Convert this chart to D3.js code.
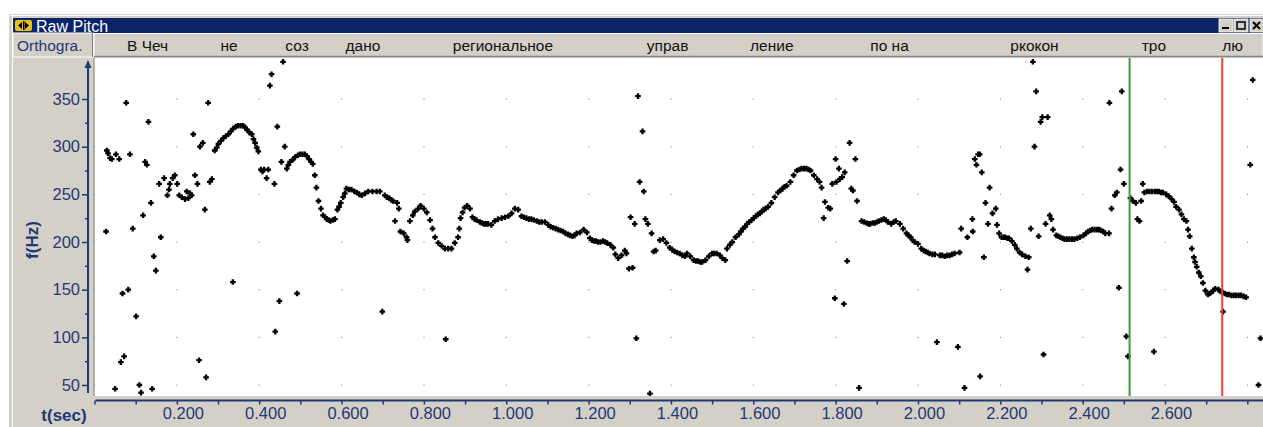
<!DOCTYPE html>
<meta charset="utf-8">
<style>
body { margin: 0; background: #fff; }
text { font-family: "Liberation Sans", Arial, sans-serif; }
.ax text { fill: #1f3876; font-size: 16.5px; }
.ax line, .ax path { stroke: #1f3876; }
</style>
<body>
<script src="https://cdn.jsdelivr.net/npm/d3@7"></script>
<script>
// raw pitch track: [time (s), f0 (Hz)]
var pitch = [
  [0.028,211],[0.030,296],[0.033,293],[0.038,288],[0.042,287],[0.050,46],[0.052,292],[0.060,287],
  [0.064,74],[0.068,146],[0.072,80],[0.077,346],[0.082,150],[0.086,292],[0.093,214],[0.101,122],
  [0.109,50],[0.113,42],[0.118,228],[0.123,284],[0.127,281],[0.131,326],[0.137,241],[0.140,46],
  [0.144,185],[0.149,170],[0.157,261],[0.161,205],[0.169,267],[0.177,249],[0.181,255],[0.183,261],
  [0.190,267],[0.195,270],[0.201,261],[0.206,249],[0.212,247],[0.220,245],[0.224,253],[0.228,246],
  [0.232,251],[0.236,249],[0.240,313],[0.244,270],[0.250,261],[0.254,76],[0.256,300],[0.263,304],
  [0.268,234],[0.271,58],[0.276,346],[0.280,263],[0.285,266],[0.292,296],[0.297,299],[0.301,303],
  [0.307,306],[0.313,309],[0.319,311],[0.325,313],[0.331,316],[0.336,158],[0.337,319],[0.343,321],
  [0.349,322],[0.355,322],[0.361,322],[0.366,320],[0.370,318],[0.376,315],[0.382,313],[0.386,308],
  [0.390,304],[0.394,299],[0.398,295],[0.404,276],[0.408,274],[0.412,276],[0.418,267],[0.422,276],
  [0.426,364],[0.430,376],[0.437,261],[0.439,106],[0.444,321],[0.449,138],[0.454,284],[0.458,389],
  [0.462,300],[0.467,277],[0.471,281],[0.475,284],[0.481,286],[0.487,289],[0.492,146],[0.494,291],
  [0.499,292],[0.505,292],[0.511,292],[0.516,290],[0.521,287],[0.526,284],[0.530,282],[0.535,270],
  [0.539,257],[0.544,243],[0.550,235],[0.555,228],[0.560,226],[0.564,224],[0.569,223],[0.573,222],
  [0.579,223],[0.584,224],[0.590,234],[0.594,237],[0.598,241],[0.604,247],[0.608,251],[0.612,256],
  [0.618,255],[0.624,255],[0.631,253],[0.637,252],[0.643,250],[0.649,249],[0.657,251],[0.665,253],
  [0.675,253],[0.685,253],[0.693,253],[0.699,127],[0.705,249],[0.710,247],[0.716,246],[0.721,244],
  [0.725,243],[0.730,222],[0.735,241],[0.739,235],[0.743,211],[0.751,209],[0.758,205],[0.760,202],
  [0.766,222],[0.773,228],[0.778,232],[0.786,235],[0.792,238],[0.800,235],[0.807,231],[0.815,223],
  [0.821,214],[0.827,205],[0.835,199],[0.843,196],[0.851,193],[0.853,98],[0.859,193],[0.867,193],
  [0.875,199],[0.883,205],[0.886,214],[0.889,225],[0.894,231],[0.899,236],[0.905,238],[0.912,235],
  [0.918,226],[0.923,224],[0.928,223],[0.936,221],[0.941,220],[0.946,219],[0.951,219],[0.956,219],
  [0.964,218],[0.972,222],[0.980,224],[0.989,225],[0.997,226],[1.005,227],[1.013,230],[1.021,235],
  [1.029,234],[1.037,227],[1.043,226],[1.049,225],[1.055,224],[1.061,224],[1.067,223],[1.074,222],
  [1.080,221],[1.086,221],[1.094,221],[1.102,218],[1.108,216],[1.114,215],[1.120,214],[1.126,213],
  [1.132,212],[1.138,211],[1.144,209],[1.150,208],[1.155,207],[1.161,206],[1.166,207],[1.171,209],
  [1.179,210],[1.188,213],[1.196,210],[1.203,204],[1.208,202],[1.213,201],[1.218,201],[1.223,200],
  [1.229,200],[1.235,201],[1.240,200],[1.245,199],[1.253,197],[1.260,194],[1.265,187],[1.272,183],
  [1.280,186],[1.288,191],[1.292,188],[1.298,172],[1.302,226],[1.307,173],[1.312,219],[1.316,99],
  [1.320,353],[1.324,263],[1.331,316],[1.334,253],[1.338,224],[1.344,219],[1.349,41],[1.353,209],
  [1.358,190],[1.363,191],[1.373,202],[1.381,203],[1.389,199],[1.397,194],[1.403,192],[1.409,190],
  [1.415,189],[1.421,188],[1.428,186],[1.434,185],[1.439,188],[1.447,185],[1.455,181],[1.461,180],
  [1.466,180],[1.471,179],[1.476,179],[1.484,181],[1.492,185],[1.500,188],[1.505,188],[1.511,188],
  [1.519,186],[1.525,183],[1.532,181],[1.536,193],[1.543,197],[1.549,200],[1.557,205],[1.565,208],
  [1.570,211],[1.575,214],[1.580,216],[1.585,219],[1.590,221],[1.596,223],[1.601,225],[1.606,227],
  [1.611,229],[1.616,230],[1.621,232],[1.625,234],[1.630,235],[1.636,237],[1.644,241],[1.652,247],
  [1.660,252],[1.666,254],[1.671,256],[1.676,258],[1.681,259],[1.690,263],[1.698,270],[1.706,275],
  [1.712,276],[1.717,277],[1.723,277],[1.729,277],[1.734,276],[1.739,275],[1.747,270],[1.755,266],
  [1.761,263],[1.766,257],[1.771,225],[1.774,242],[1.782,236],[1.787,235],[1.792,261],[1.798,141],
  [1.800,287],[1.802,263],[1.808,277],[1.810,266],[1.816,268],[1.820,135],[1.822,273],[1.828,180],
  [1.834,304],[1.838,256],[1.842,254],[1.848,287],[1.852,243],[1.857,47],[1.863,222],[1.869,221],
  [1.875,220],[1.880,219],[1.884,219],[1.890,220],[1.895,220],[1.900,221],[1.905,222],[1.911,223],
  [1.917,224],[1.922,223],[1.927,221],[1.935,219],[1.941,221],[1.946,222],[1.956,219],[1.964,214],
  [1.972,209],[1.977,207],[1.982,205],[1.987,202],[1.992,200],[2.000,198],[2.008,193],[2.014,191],
  [2.019,190],[2.024,189],[2.028,188],[2.035,187],[2.041,187],[2.046,95],[2.053,186],[2.059,186],
  [2.065,185],[2.071,186],[2.077,186],[2.083,187],[2.089,188],[2.097,90],[2.101,189],[2.105,214],
  [2.113,47],[2.120,205],[2.132,224],[2.133,211],[2.138,287],[2.142,281],[2.146,292],[2.150,292],
  [2.151,59],[2.155,273],[2.160,184],[2.164,241],[2.170,219],[2.174,257],[2.181,230],[2.189,235],
  [2.192,218],[2.197,209],[2.203,205],[2.208,205],[2.212,205],[2.217,204],[2.221,204],[2.228,201],
  [2.235,197],[2.240,193],[2.247,189],[2.253,187],[2.261,185],[2.266,171],[2.269,184],[2.274,214],
  [2.279,389],[2.283,300],[2.287,358],[2.293,206],[2.298,326],[2.302,331],[2.305,82],[2.310,219],
  [2.315,331],[2.320,228],[2.324,224],[2.328,213],[2.336,207],[2.341,206],[2.346,205],[2.351,204],
  [2.356,203],[2.362,203],[2.368,203],[2.374,203],[2.380,203],[2.387,204],[2.393,205],[2.402,207],
  [2.408,209],[2.413,211],[2.418,212],[2.423,213],[2.429,213],[2.435,213],[2.440,213],[2.445,212],
  [2.450,211],[2.455,209],[2.464,209],[2.465,346],[2.470,235],[2.478,249],[2.483,252],[2.488,152],
  [2.492,276],[2.495,358],[2.500,261],[2.506,101],[2.510,80],[2.516,246],[2.522,243],[2.529,241],
  [2.533,224],[2.538,222],[2.542,243],[2.546,261],[2.550,252],[2.556,253],[2.562,253],[2.568,253],
  [2.573,85],[2.575,253],[2.580,253],[2.585,253],[2.590,252],[2.595,252],[2.603,250],[2.609,248],
  [2.616,245],[2.622,242],[2.627,237],[2.634,234],[2.640,229],[2.646,224],[2.652,222],[2.656,213],
  [2.660,206],[2.665,193],[2.670,184],[2.673,179],[2.677,174],[2.682,168],[2.687,164],[2.692,157],
  [2.698,149],[2.704,145],[2.708,146],[2.712,147],[2.717,149],[2.722,151],[2.730,150],[2.735,148],
  [2.740,147],[2.741,127],[2.745,146],[2.750,145],[2.755,145],[2.761,144],[2.767,144],[2.773,144],
  [2.779,144],[2.785,144],[2.791,143],[2.797,142],[2.807,281],[2.813,370],[2.827,50],[2.832,99]
];

// orthographic tier
var words = ["В Чеч", "не", "соз", "дано", "региональное", "управ", "ление", "по на", "ркокон", "тро", "лю"];
var wordTimes = [0.129, 0.327, 0.492, 0.652, 0.992, 1.392, 1.645, 1.931, 2.283, 2.573, 2.764];

var yMajor = [50, 100, 150, 200, 250, 300, 350];
var yMinor = [75, 125, 175, 225, 275, 325];
var xLabelTicks = [0.2, 0.4, 0.6, 0.8, 1.0, 1.2, 1.4, 1.6, 1.8, 2.0, 2.2, 2.4, 2.6];
var xAllTicks = [0, 0.1, 0.2, 0.3, 0.4, 0.5, 0.6, 0.7, 0.8, 0.9, 1.0, 1.1, 1.2, 1.3, 1.4, 1.5, 1.6, 1.7, 1.8, 1.9, 2.0, 2.1, 2.2, 2.3, 2.4, 2.5, 2.6, 2.7, 2.8];
var gridTimes = [0, 0.2, 0.4, 0.6, 0.8, 1.0, 1.2, 1.4, 1.6, 1.8, 2.0, 2.2, 2.4, 2.6, 2.8];

var cursorTimes = [2.514, 2.739];
var cursorColors = ["#3d9a3d", "#f23c3c"];

var W = 1263, H = 427;
var plotL = 94.5, plotR = 1263, plotT = 58, plotB = 396;

var x = d3.scaleLinear().domain([0, 2.838]).range([plotL, plotR]);
var y = d3.scaleLinear().domain([50, 350]).range([385, 99]);

var svg = d3.select("body").append("svg")
    .attr("width", W)
    .attr("height", H);

// window frame
svg.append("rect").attr("x", 9).attr("y", 14).attr("width", W - 9).attr("height", H - 14)
    .attr("fill", "#d4d0c8");
svg.append("line").attr("x1", 12.5).attr("x2", 12.5).attr("y1", 15).attr("y2", H)
    .attr("stroke", "#fff");
svg.append("line").attr("x1", 10).attr("x2", W).attr("y1", 15.5).attr("y2", 15.5)
    .attr("stroke", "#fff");

// title bar
svg.append("rect").attr("x", 13).attr("y", 18).attr("width", W - 13).attr("height", 15)
    .attr("fill", "#0a246a");
var icon = svg.append("g").attr("transform", "translate(15,20)");
icon.append("rect").attr("width", 17).attr("height", 11).attr("rx", 2).attr("fill", "#e8c21a");
icon.append("path").attr("d", "M3,5.5L7,2V9Z M10,2L14,5.5L10,9Z").attr("fill", "#000");
icon.append("rect").attr("x", 8).attr("y", 1).attr("width", 1.5).attr("height", 9).attr("fill", "#000");
svg.append("text").attr("x", 36).attr("y", 31.5)
    .attr("fill", "#fff").style("font-size", "16px")
    .text("Raw Pitch");

// window buttons
var btnX = [1219, 1234, 1250];
btnX.forEach(function(bx, i) {
    svg.append("rect").attr("x", bx).attr("y", 19).attr("width", 14).attr("height", 13)
        .attr("fill", "#d4d0c8").attr("stroke", "#fff").attr("stroke-width", 0.8);
});
svg.append("rect").attr("x", 1222).attr("y", 27).attr("width", 7).attr("height", 2).attr("fill", "#000");
svg.append("rect").attr("x", 1237).attr("y", 22).attr("width", 8).attr("height", 7)
    .attr("fill", "none").attr("stroke", "#000").attr("stroke-width", 1.5);
svg.append("path").attr("d", "M1253,22L1260,29M1260,22L1253,29")
    .attr("stroke", "#000").attr("stroke-width", 2);

// orthographic tier
svg.append("rect").attr("x", 13).attr("y", 33).attr("width", 80).attr("height", 24)
    .attr("fill", "#d4d0c8").attr("stroke", "#fff");
svg.append("line").attr("x1", 92.5).attr("x2", 92.5).attr("y1", 33).attr("y2", 57)
    .attr("stroke", "#808080");
svg.append("text").attr("x", 17).attr("y", 51)
    .attr("fill", "#1f3876").style("font-size", "15.5px")
    .text("Orthogra.");
svg.append("rect").attr("x", 94).attr("y", 33.5).attr("width", W - 94).attr("height", 23)
    .attr("fill", "#d4d0c8").attr("stroke", "#fff");
svg.append("line").attr("x1", 94).attr("x2", W).attr("y1", 56.5).attr("y2", 56.5)
    .attr("stroke", "#8a8782").attr("stroke-width", 1.5);
svg.selectAll(".word").data(words).enter().append("text")
    .attr("class", "word")
    .attr("x", function(d, i) { return x(wordTimes[i]); })
    .attr("y", 51)
    .attr("text-anchor", "middle")
    .attr("fill", "#111")
    .style("font-size", "15.5px")
    .text(function(d) { return d; });

// plot area
svg.append("rect").attr("x", plotL).attr("y", plotT).attr("width", plotR - plotL).attr("height", plotB - plotT)
    .attr("fill", "#fff");
svg.append("line").attr("x1", plotL - 0.5).attr("x2", plotL - 0.5).attr("y1", plotT).attr("y2", plotB)
    .attr("stroke", "#808080");

// dotted grid
var grid = [];
gridTimes.forEach(function(t) { yMajor.forEach(function(f) { grid.push([t, f]); }); });
svg.append("g").selectAll("rect").data(grid).enter().append("rect")
    .attr("x", function(d) { return x(d[0]) - 0.5; })
    .attr("y", function(d) { return y(d[1]) - 0.5; })
    .attr("width", 1.2).attr("height", 1.2)
    .attr("fill", "#9a9a9a");

// pitch points
svg.append("clipPath").attr("id", "clip").append("rect")
    .attr("x", plotL).attr("y", plotT).attr("width", plotR - plotL).attr("height", plotB - plotT);
svg.append("g").attr("clip-path", "url(#clip)")
    .selectAll("path").data(pitch).enter().append("path")
    .attr("transform", function(d) { return "translate(" + x(d[0]) + "," + y(d[1]) + ")"; })
    .attr("d", "M-2.8,0H2.8M0,-2.8V2.8")
    .attr("stroke", "#000")
    .attr("stroke-width", 2.3);

// cursors
svg.append("g").selectAll("line").data(cursorTimes).enter().append("line")
    .attr("x1", function(d) { return x(d); })
    .attr("x2", function(d) { return x(d); })
    .attr("y1", plotT).attr("y2", plotB)
    .attr("stroke", function(d, i) { return cursorColors[i]; })
    .attr("stroke-width", 2);

// y axis
var yAxisX = 88;
var yAx = svg.append("g").attr("class", "ax").attr("transform", "translate(" + yAxisX + ",0)")
    .call(d3.axisLeft(y).tickValues(yMajor).tickSize(6).tickPadding(2).tickSizeOuter(0));
yAx.select(".domain").remove();
yAx.selectAll("line").attr("stroke-width", 1.5);
svg.append("g").attr("class", "ax").attr("transform", "translate(" + yAxisX + ",0)")
    .call(d3.axisLeft(y).tickValues(yMinor).tickSize(3).tickFormat("").tickSizeOuter(0))
    .call(function(g) { g.select(".domain").remove(); })
    .selectAll("line").attr("stroke-width", 1.5);
svg.append("line").attr("x1", yAxisX).attr("x2", yAxisX).attr("y1", 64).attr("y2", 393)
    .attr("stroke", "#1f3876").attr("stroke-width", 2);
svg.append("path").attr("d", "M" + yAxisX + ",60L" + (yAxisX - 3.5) + ",68H" + (yAxisX + 3.5) + "Z")
    .attr("fill", "#1f3876");
svg.append("text").attr("transform", "translate(38,240) rotate(-90)")
    .attr("text-anchor", "middle")
    .attr("fill", "#1f3876").style("font-size", "17px").style("font-weight", "bold")
    .text("f(Hz)");

// x axis
var xAxisY = 400.5;
var xAx = svg.append("g").attr("class", "ax").attr("transform", "translate(0," + xAxisY + ")")
    .call(d3.axisBottom(x).tickValues(xAllTicks).tickSize(4).tickSizeOuter(0)
        .tickFormat(function(d) {
            return xLabelTicks.some(function(v) { return Math.abs(v - d) < 1e-6; }) ? d3.format(".3f")(d) : "";
        }));
xAx.select(".domain").remove();
xAx.selectAll("line").attr("stroke-width", 1.5);
xAx.selectAll("text").attr("dx", 6).attr("dy", "0.85em").attr("y", 4);
svg.append("line").attr("x1", 95.5).attr("x2", W).attr("y1", xAxisY).attr("y2", xAxisY)
    .attr("stroke", "#1f3876").attr("stroke-width", 2);
svg.append("text").attr("x", 64).attr("y", 421)
    .attr("text-anchor", "middle")
    .attr("fill", "#1f3876").style("font-size", "17px").style("font-weight", "bold")
    .text("t(sec)");
</script>
</body>
